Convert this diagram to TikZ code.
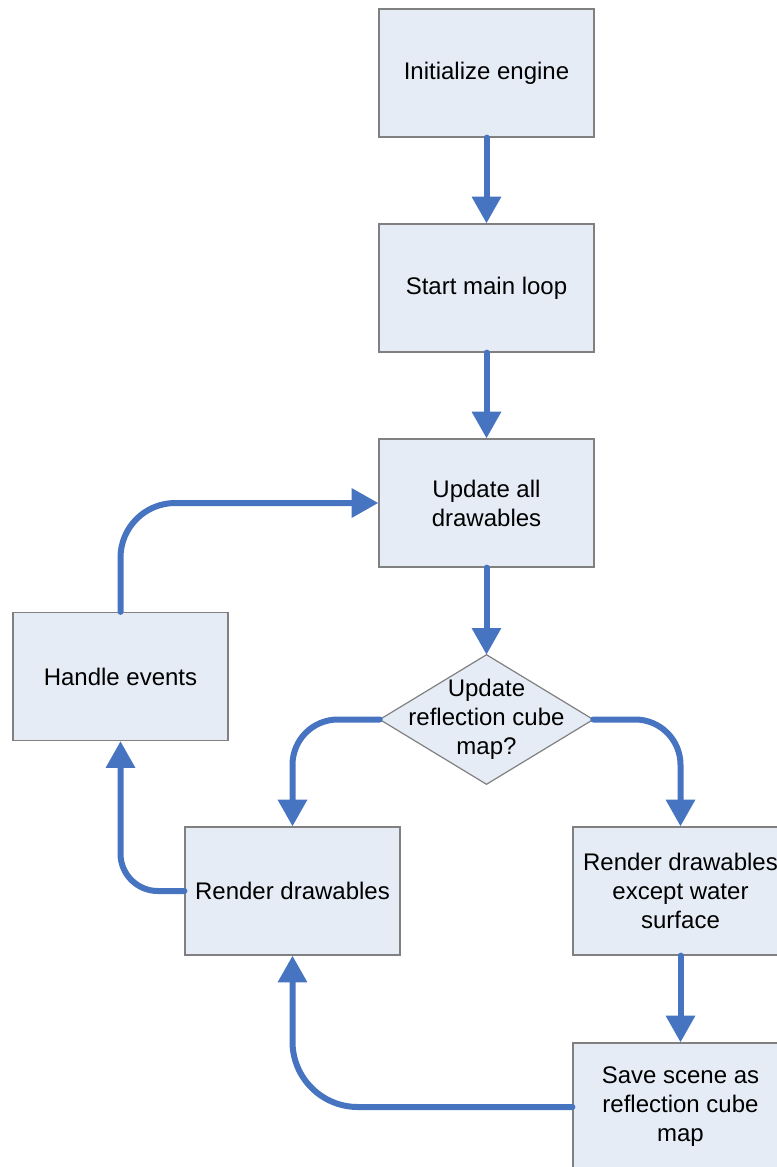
\documentclass[tikz,border=0pt]{standalone}
\usepackage{fontspec}
\setmainfont{Liberation Sans}
\usetikzlibrary{arrows.meta}
\pgfdeclarelayer{background}
\pgfsetlayers{background,main}
\definecolor{flowblue}{RGB}{71,116,193}
\definecolor{boxfill}{RGB}{230,236,246}
\definecolor{boxline}{RGB}{128,128,128}
\tikzset{
  textstyle/.style={align=center, font=\fontsize{18}{21.75}\selectfont},
  stepbox/.style={textstyle, draw=boxline, line width=0.9pt, fill=boxfill,
    minimum width=161.25pt, minimum height=96pt, inner sep=0pt},
  decarea/.style={textstyle, minimum width=159.75pt, minimum height=96.75pt, inner sep=0pt},
  decframe/.style={draw=boxline, line width=0.9pt, fill=boxfill, line join=miter},
  flow/.style={draw=flowblue, line width=4.5pt, line cap=round,
    -{Triangle[length=20pt,width=21pt]}},
}
\begin{document}
\begin{tikzpicture}[x=0.75pt,y=-0.75pt]
\useasboundingbox (0,0) rectangle (777,1167);
\clip (0,0) rectangle (777,1167);
% process steps
\node[stepbox] (init)   at (486.5,73)   {Initialize engine};
\node[stepbox] (start)  at (486.5,288)  {Start main loop};
\node[stepbox] (update) at (486.5,503)  {Update all\\drawables};
\node[decarea] (dec)    at (486.5,719.5){Update\\reflection cube\\map?};
\begin{pgfonlayer}{background}
  \path[decframe] (dec.north) -- (dec.east) -- (dec.south) -- (dec.west) -- cycle;
\end{pgfonlayer}
\node[stepbox] (events) at (120.5,676.5){Handle events};
\node[stepbox] (render) at (292.5,891)  {Render drawables};
\node[stepbox] (renderx) at (680.5,891) {Render drawables\\except water\\surface};
\node[stepbox] (save)   at (680.5,1107) {Save scene as\\reflection cube\\map};
% connectors
\draw[flow] (init.south) -- (start.north);
\draw[flow] (start.south) -- (update.north);
\draw[flow] (update.south) -- (dec.north);
\draw[flow, rounded corners=34pt] (dec.west) -| (render.north);
\draw[flow, rounded corners=34pt] (dec.east) -| (renderx.north);
\draw[flow] (renderx.south) -- (save.north);
\draw[flow, rounded corners=49pt] (save.west) -| (render.south);
\draw[flow, rounded corners=28pt] (render.west) -| (events.south);
\draw[flow, rounded corners=41pt] (events.north) |- (update.west);
\end{tikzpicture}
\end{document}
